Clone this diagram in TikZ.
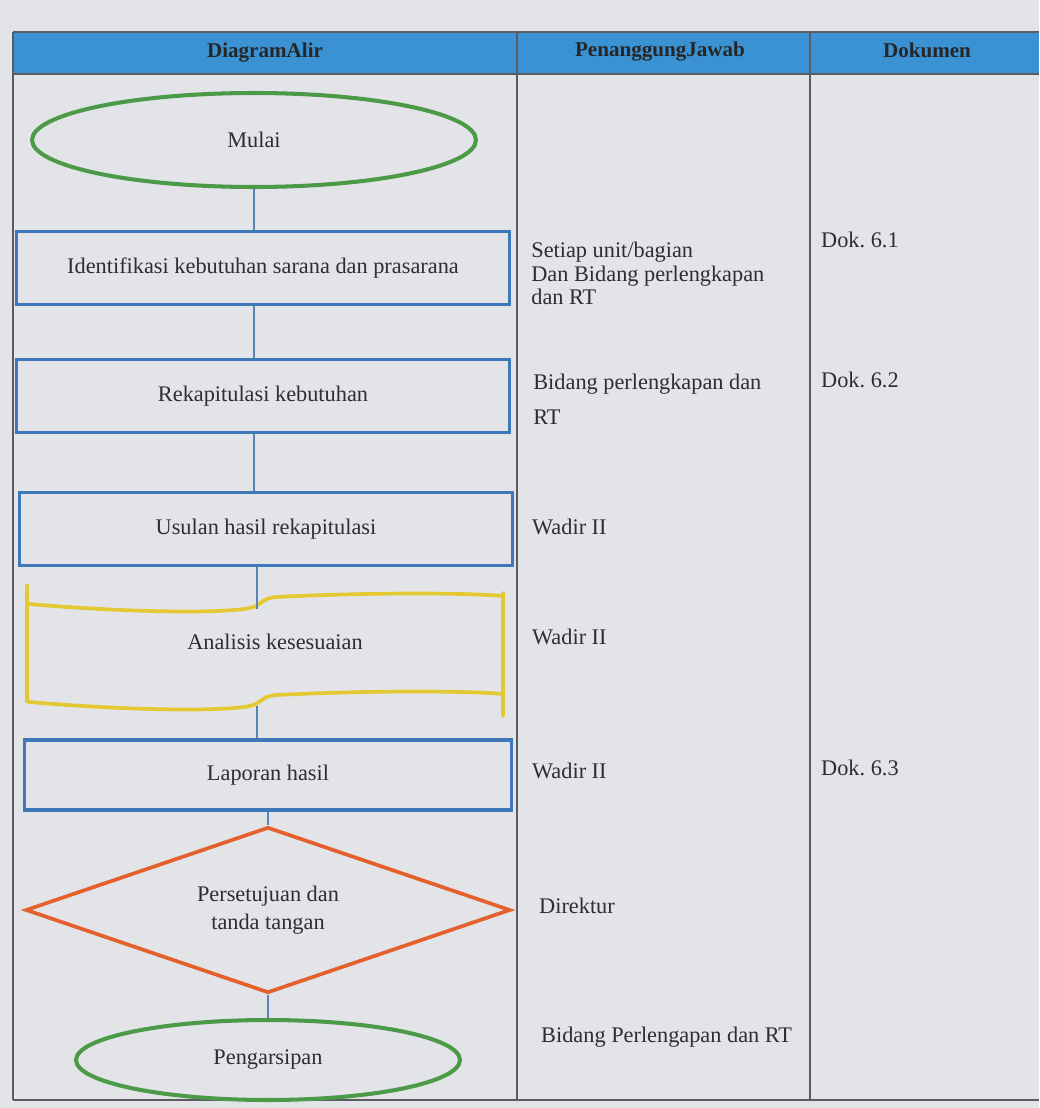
\documentclass[tikz,border=0pt]{standalone}
\usepackage{fontspec}
\setmainfont{Liberation Serif}
\usetikzlibrary{shapes.geometric}
\definecolor{bg}{HTML}{E2E4E7}
\definecolor{hdr}{HTML}{3B92D2}
\definecolor{boxblue}{HTML}{3F78B8}
\definecolor{termgreen}{HTML}{4C9A48}
\definecolor{docyellow}{HTML}{E3C832}
\definecolor{decorange}{HTML}{E4602C}
\definecolor{linkblue}{HTML}{5A84B6}
\definecolor{gridgray}{HTML}{5A5C60}
\definecolor{ink}{HTML}{2E2E30}
\begin{document}
\begin{tikzpicture}[x=0.02cm,y=-0.02cm,
  every node/.style={font=\fontsize{12.7}{15}\selectfont,text=ink},
  proc/.style={draw=boxblue,line width=2.1pt,minimum width=9.86cm,minimum height=1.46cm,inner sep=0pt},
  term/.style={ellipse,draw=termgreen,line width=2.3pt,inner sep=0pt},
  link/.style={draw=linkblue,line width=0.9pt},
  gridline/.style={draw=gridgray,line width=0.8pt},
  hdrtext/.style={font=\fontsize{12}{14}\selectfont\bfseries,text=black!85},
  col/.style={anchor=west},
  colml/.style={anchor=north west,align=left,inner sep=0pt}]
\fill[bg] (0,0) rectangle (1039,1108);
\useasboundingbox (0,0) rectangle (1039,1108);
% header
\fill[hdr] (13,32) rectangle (1039,74);
\draw[gridline] (13,32) -- (1039,32);
\draw[gridline] (13,74) -- (1039,74);
\draw[gridline] (13,32) -- (13,1100);
\draw[gridline] (517,32) -- (517,1100);
\draw[gridline] (810,32) -- (810,1100);
\draw[gridline] (13,1100) -- (1039,1100);
\node[hdrtext] (h1) at (265,53) {DiagramAlir};
\node[hdrtext] (h2) at (660,52) {PenanggungJawab};
\node[hdrtext] (h3) at (927,50) {Dokumen};
% flow
\node[term,minimum width=8.88cm,minimum height=1.88cm] (start) at (254,140) {Mulai};
\node[proc] (p1) at (263,268) {Identifikasi kebutuhan sarana dan prasarana};
\node[proc] (p2) at (263,396) {Rekapitulasi kebutuhan};
\node[proc] (p3) at (266,529) {Usulan hasil rekapitulasi};
\coordinate (docT) at (257,609);
\coordinate (docB) at (257,706);
\draw[draw=docyellow,line width=2.1pt,line cap=round]
  (27,585) -- (27,702)
  (29,604) .. controls (120,612) and (220,614) .. (250,608)
           .. controls (262,605) and (262,598) .. (276,597)
           .. controls (380,592) and (470,593) .. (503,596)
  (503,593) -- (503,716)
  (29,702) .. controls (120,710) and (220,712) .. (250,706)
           .. controls (262,703) and (262,696) .. (276,695)
           .. controls (380,690) and (470,691) .. (503,694);
\node (doc) at (275,642) {Analisis kesesuaian};
\node[proc,minimum width=9.74cm,minimum height=1.4cm] (p4) at (268,775) {Laporan hasil};
\node[diamond,shape aspect=2.9,draw=decorange,line width=2.1pt,minimum width=9.7cm,minimum height=3.32cm,inner sep=0pt,align=center,font=\fontsize{12.7}{16}\selectfont] (dec) at (268,910) {Persetujuan dan\\tanda tangan};
\node[term,minimum width=7.68cm,minimum height=1.6cm] (stop) at (268,1060) {Pengarsipan};
% connectors
\draw[link] (start.south) -- (start.south |- p1.north);
\draw[link] (start.south |- p1.south) -- (start.south |- p2.north);
\draw[link] (start.south |- p2.south) -- (start.south |- p3.north);
\draw[link] (docT |- p3.south) -- (docT);
\draw[link] (docB) -- (docB |- p4.north);
\draw[link] (p4.south) -- (dec.north);
\draw[link] (dec.south) -- (stop.north);
% responsible
\node[colml,font=\fontsize{12.7}{13.2}\selectfont] (r1) at (531,242) {Setiap unit/bagian\\Dan Bidang perlengkapan\\dan RT};
\node[colml,font=\fontsize{12.7}{19.8}\selectfont] (r2) at (533,374) {Bidang perlengkapan dan\\RT};
\node[col] (r3) at (526,527) {Wadir II};
\node[col] (r4) at (526,637) {Wadir II};
\node[col] (r5) at (526,771) {Wadir II};
\node[col] (r6) at (533,906) {Direktur};
\node[col] (r7) at (535,1037) {Bidang Perlengapan dan RT};
% documents
\node[col] (d1) at (815,240) {Dok.\ 6.1};
\node[col] (d2) at (815,380) {Dok.\ 6.2};
\node[col] (d3) at (815,768) {Dok.\ 6.3};
\end{tikzpicture}
\end{document}
